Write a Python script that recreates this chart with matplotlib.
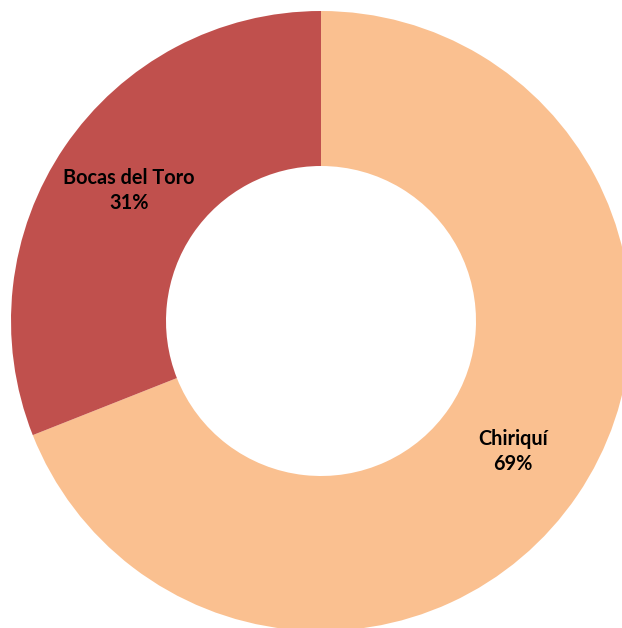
import matplotlib.pyplot as plt

# data
provinces = ['Chiriquí', 'Bocas del Toro']
shares = [69, 31]
colors = ['#FAC090', '#C0504D']

fig = plt.figure(figsize=(6.22, 6.28), dpi=100)
ax = fig.add_axes([0, 0, 1, 1])

wedges, texts, autotexts = ax.pie(
    shares, colors=colors, startangle=90, counterclock=False,
    radius=1.0, autopct='%.0f%%', pctdistance=0.75,
    wedgeprops=dict(width=0.5, linewidth=0),
    textprops=dict(fontsize=14.3, fontweight='bold', family='Lato',
                   color='black', linespacing=1.32))

for t, name in zip(autotexts, provinces):
    t.set_text(name + '\n' + t.get_text())
    t.set_ha('center')
    t.set_va('center')

# centre at pixel (321, 321), outer radius about 310 px
ax.set_xlim(-321 / 310, (622 - 321) / 310)
ax.set_ylim(-(628 - 321) / 310, 321 / 310)
ax.set_aspect('auto')
ax.axis('off')

fig.savefig('out.png', dpi=100)
